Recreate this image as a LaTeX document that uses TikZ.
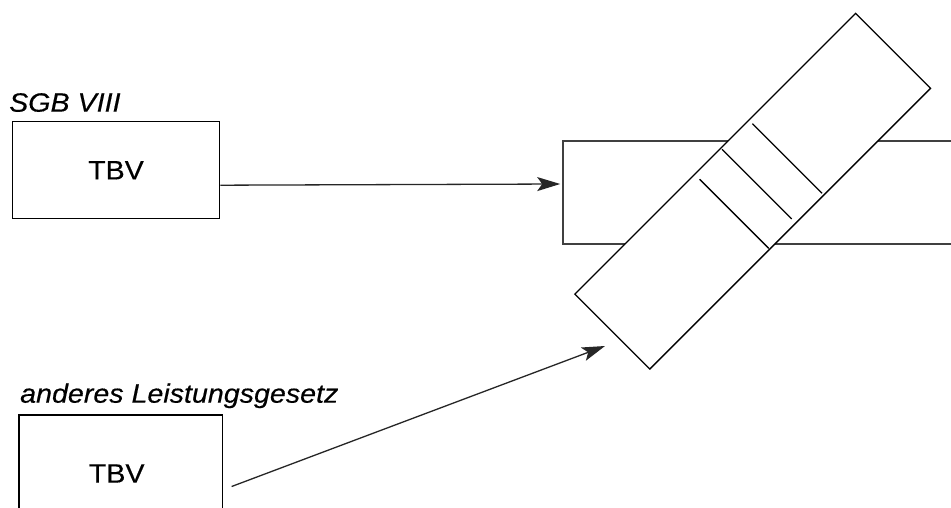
\documentclass[tikz,border=0pt]{standalone}
\usepackage{fontspec}
\setmainfont{Liberation Sans}[FakeStretch=1.08, FakeBold=0.35]
\usetikzlibrary{arrows.meta,calc}

\tikzset{
  txt/.style={font=\fontsize{26.5}{30}\selectfont},
  caption/.style={txt, font=\fontsize{26.5}{30}\selectfont\itshape, anchor=base west, inner sep=0pt},
  tbvbox/.style={draw=black, line width=1.2pt, inner sep=0pt, txt},
  bar/.style={draw=black!75, line width=1.6pt, inner sep=0pt},
  slab/.style={draw=black, line width=1.3pt, fill=white, inner sep=0pt},
  rung/.style={draw=black, line width=1.3pt},
  conn/.style={draw=black!85, line width=1.3pt, -{Stealth[length=23pt,width=14pt,inset=5pt]}}
}

\begin{document}
\begin{tikzpicture}[x=1pt, y=-1pt]
  % canvas
  \useasboundingbox (0,0) rectangle (951,508);
  \clip (0,0) rectangle (951,508);
  \fill[white] (0,0) rectangle (951,508);

  % source boxes with their headings
  \node[caption] (h1) at (9,111.7) {SGB VIII};
  \node[tbvbox, minimum width=207.4pt, minimum height=97pt] (b1) at (116,170.2) {TBV};

  \node[caption] (h2) at (20,402.7) {anderes Leistungsgesetz};
  \node[tbvbox, minimum width=203.3pt, minimum height=117pt,
        label={[txt, xshift=-4pt]center:TBV}] (b2) at (120.7,473.5) {};

  % horizontal bar running off the right edge
  \node[bar, minimum width=437pt, minimum height=102.4pt] (hr) at (781.5,192.5) {};

  % tilted slab lying across the bar
  \node[slab, minimum width=397pt, minimum height=106pt, rotate=45] (rr) at (752.7,191.2) {};

  % rungs inside the slab, in its own frame
  \begin{scope}[shift={(rr.center)}, x=1pt, y=1pt, rotate=45]
    \draw[rung] (-29.1,45.9) -- (-29.1,-51.7);
    \draw[rung] (7.9,51.3) -- (7.9,-47.2);
    \draw[rung] (47.6,48) -- (47.6,-50.5);
  \end{scope}

  % connectors
  \coordinate (a2end) at (605,346);
  \draw[conn] ([yshift=-15pt]b1.east) -- ([yshift=8.5pt, xshift=-2pt]hr.west);
  \draw[conn] ([xshift=8.7pt, yshift=-13pt]b2.east) -- (a2end);
\end{tikzpicture}
\end{document}
